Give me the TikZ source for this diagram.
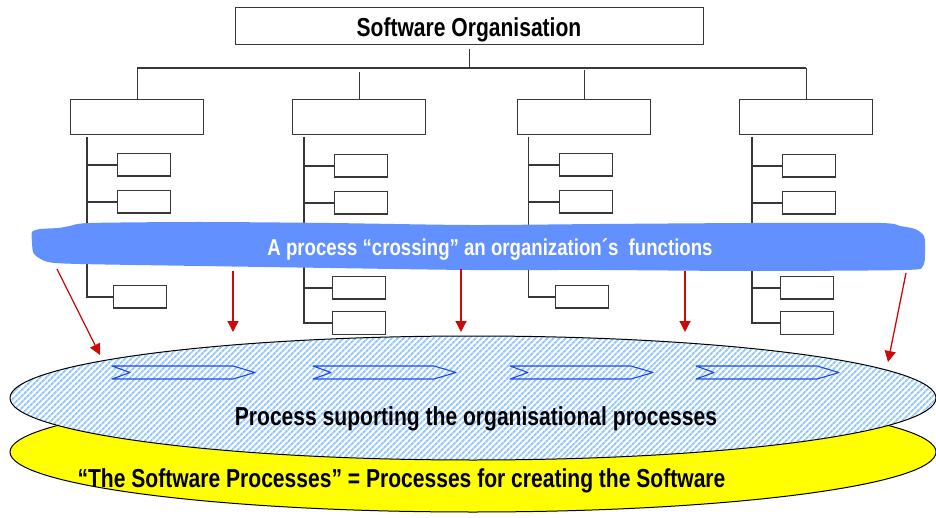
\documentclass[tikz,border=0pt]{standalone}
\usepackage{fontspec}
\newfontfamily\condbold{Liberation Sans Bold}[FakeStretch=0.81]
\usetikzlibrary{arrows.meta,patterns.meta}
\definecolor{linegray}{RGB}{55,55,55}
\definecolor{bandblue}{RGB}{98,145,255}
\definecolor{arrowred}{RGB}{205,10,10}
\definecolor{hatchblue}{RGB}{145,198,255}
\definecolor{chevblue}{RGB}{30,75,230}
\definecolor{layeryellow}{RGB}{255,255,0}
\begin{document}
\begin{tikzpicture}[x=1pt,y=-1pt,
  box/.style={draw=linegray,line width=1.3pt,fill=white,inner sep=0pt,anchor=north west},
  orgbox/.style={box,minimum width=468pt,minimum height=37pt},
  deptbox/.style={box,minimum width=133pt,minimum height=35pt},
  unitbox/.style={box,minimum width=53pt,minimum height=22.5pt},
  wire/.style={draw=linegray,line width=1.3pt},
  flow/.style={draw=arrowred,line width=1.3pt,-{Triangle[length=11pt,width=11pt]}},
  chevron/.style={draw=chevblue,line width=1.1pt,line join=round},
  bigtext/.style={font=\condbold\fontsize{26}{26}\selectfont,inner sep=0pt,anchor=base},
  bandtext/.style={font=\condbold\fontsize{23}{23}\selectfont,text=white,inner sep=0pt,anchor=base}
]
\useasboundingbox (0,0) rectangle (936,518);

% lower layer: the software processes
\draw[black,line width=1pt,fill=layeryellow] (473,452) ellipse [x radius=463, y radius=60];

% upper layer: supporting processes (hatched)
\fill[white] (473,398) ellipse [x radius=463, y radius=62];
\path[pattern={Lines[angle=45,distance=4pt,line width=2pt]},pattern color=hatchblue]
  (473,398) ellipse [x radius=463, y radius=62];
\draw[black,line width=1pt] (473,398) ellipse [x radius=463, y radius=62];

% process chevrons
\foreach \s in {112,313,510,696}
  \draw[chevron] (\s,366) -- ++(121,0) -- ++(22,6.5) -- ++(-22,6.5) -- ++(-121,0) -- ++(18,-6.5) -- cycle;

\node[bigtext] (suptext) at (476,425) {Process suporting the organisational processes};
\node[bigtext] (swtext) at (401.5,487) {“The Software Processes” = Processes for creating the Software};

% organisation chart
\node[orgbox] (org) at (235,7) {};
\node[bigtext] (orgtext) at (469,37) {Software Organisation};

\node[deptbox] (d1) at (70,99) {};
\node[deptbox] (d2) at (292,99) {};
\node[deptbox] (d3) at (517,99) {};
\node[deptbox] (d4) at (739,99) {};

\coordinate (busL) at (134,68);
\draw[wire] ([yshift=-4pt]org.south) -- (org.south |- busL);
\draw[wire] (d1.north |- busL) -- (d4.north |- busL);
\draw[wire] (d1.north |- busL) -- (d1.north);
\draw[wire] ([yshift=-4pt]d2.north |- busL) -- (d2.north);
\draw[wire] ([yshift=-2pt]d3.north |- busL) -- (d3.north);
\draw[wire] (d4.north |- busL) -- (d4.north);

\node[unitbox] (s11) at (117,153) {};
\node[unitbox] (s12) at (117,190) {};
\node[unitbox] (s13) at (113,285) {};
\node[unitbox] (s21) at (334,154) {};
\node[unitbox] (s22) at (334,191) {};
\node[unitbox] (s23) at (332,276) {};
\node[unitbox] (s24) at (332,311) {};
\node[unitbox] (s31) at (559,153) {};
\node[unitbox] (s32) at (559,190) {};
\node[unitbox] (s33) at (555,285) {};
\node[unitbox] (s41) at (782,154) {};
\node[unitbox] (s42) at (782,191) {};
\node[unitbox] (s43) at (780,276) {};
\node[unitbox] (s44) at (780,311) {};

\coordinate (v1) at (87,137);
\coordinate (v2) at (304,137);
\coordinate (v3) at (528.5,137);
\coordinate (v4) at (752,137);

\draw[wire] (v1) |- (s13.west);
\draw[wire] (s11.west -| v1) -- (s11.west);
\draw[wire] (s12.west -| v1) -- (s12.west);
\draw[wire] (v2) |- (s24.west);
\draw[wire] (s21.west -| v2) -- (s21.west);
\draw[wire] (s22.west -| v2) -- (s22.west);
\draw[wire] (s23.west -| v2) -- (s23.west);
\draw[wire] (v3) |- (s33.west);
\draw[wire] (s31.west -| v3) -- (s31.west);
\draw[wire] (s32.west -| v3) -- (s32.west);
\draw[wire] (v4) |- (s44.west);
\draw[wire] (s41.west -| v4) -- (s41.west);
\draw[wire] (s42.west -| v4) -- (s42.west);
\draw[wire] (s43.west -| v4) -- (s43.west);

% the crossing process band
\fill[bandblue] plot[smooth cycle,tension=0.45] coordinates {
  (32,232) (40,229) (58,228) (70,226) (90,223) (200,222) (330,223) (470,225)
  (600,224) (750,223) (880,223) (900,226) (915,229) (924,236) (925,250)
  (923,266) (905,270) (750,271) (600,270) (470,270) (330,268) (200,266)
  (80,264) (48,262) (34,254) (32,242)};
\node[bandtext] (bandlabel) at (490,256) {A process “crossing” an organization´s~ functions};

% arrows from the band to the supporting layer
\coordinate (a1s) at (57,269);   \coordinate (a1e) at (100,355);
\coordinate (a2s) at (233,271);  \coordinate (a2e) at (233,332);
\coordinate (a3s) at (461,269);  \coordinate (a3e) at (461,332);
\coordinate (a4s) at (685,271);  \coordinate (a4e) at (685,332);
\coordinate (a5s) at (906,273);  \coordinate (a5e) at (888,362);
\draw[flow] (a1s) -- (a1e);
\draw[flow] (a2s) -- (a2e);
\draw[flow] (a3s) -- (a3e);
\draw[flow] (a4s) -- (a4e);
\draw[flow] (a5s) -- (a5e);
\end{tikzpicture}
\end{document}
